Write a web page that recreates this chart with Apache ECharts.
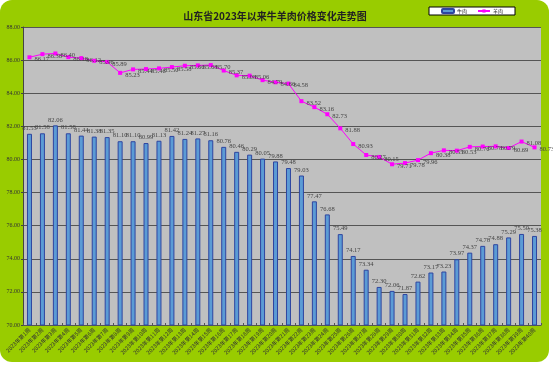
<!DOCTYPE html>
<html>
<head>
<meta charset="utf-8">
<script src="https://cdn.jsdelivr.net/npm/echarts@6/dist/echarts.min.js"></script>
<style>
html,body{margin:0;padding:0;background:#fff;}
#bg{position:absolute;left:0;top:0;width:549px;height:362px;background:#99CC00;border-radius:12px;}
#chart{position:absolute;left:0;top:0;width:553px;height:366px;}
</style>
</head>
<body>
<div id="bg"></div>
<div id="chart"></div>
<script>
const categories = ['2023年第1周','2023年第2周','2023年第3周','2023年第4周','2023年第5周','2023年第6周','2023年第7周','2023年第8周','2023年第9周','2023年第10周',
'2023年第11周','2023年第12周','2023年第13周','2023年第14周','2023年第15周','2023年第16周','2023年第17周','2023年第18周','2023年第19周','2023年第20周',
'2023年第21周','2023年第22周','2023年第23周','2023年第24周','2023年第25周','2023年第26周','2023年第27周','2023年第28周','2023年第29周','2023年第30周',
'2023年第31周','2023年第32周','2023年第33周','2023年第34周','2023年第35周','2023年第36周','2023年第37周','2023年第38周','2023年第39周','2023年第40周'];
const beef = [81.55,81.58,82.06,81.58,81.44,81.38,81.35,81.10,81.10,80.99,81.13,81.42,81.24,81.27,81.16,80.76,80.46,80.29,80.05,79.88,
79.48,79.03,77.47,76.68,75.49,74.17,73.34,72.30,72.06,71.87,72.62,73.17,73.23,73.97,74.37,74.78,74.88,75.29,75.50,75.38];
const mutton = [86.17,86.36,86.40,86.18,86.12,85.96,85.89,85.23,85.44,85.46,85.50,85.58,85.66,85.68,85.70,85.37,85.08,85.06,84.79,84.66,
84.58,83.52,83.16,82.73,81.88,80.93,80.27,80.15,79.71,79.78,79.96,80.38,80.55,80.53,80.76,80.78,80.79,80.69,81.08,80.73];
const seriesNames = ['牛肉','羊肉'];
const titleText = '山东省2023年以来牛羊肉价格变化走势图';

const chart = echarts.init(document.getElementById('chart'), null, {renderer:'canvas'});
const lblFont = 'Liberation Serif';
chart.setOption({
  animation:false,
  backgroundColor:'transparent',
  title:{text:titleText,left:270,textAlign:'center',top:6,
    textStyle:{fontSize:10,fontWeight:'bold',color:'#222',fontFamily:'Noto Sans CJK SC'}},
  legend:{left:429,top:7,backgroundColor:'#fff',borderColor:'#000',borderWidth:1,borderRadius:0,
    padding:[1,12,1,12],itemGap:10,itemWidth:12,itemHeight:4,
    textStyle:{fontSize:5,color:'#222',fontFamily:'Noto Sans CJK SC',padding:[0,0,0,-2]},
    data:[{name:'牛肉'},{name:'羊肉'}]},
  grid:{left:23,right:12,top:27,bottom:41,show:true,backgroundColor:'#C0C0C0',borderWidth:0},
  xAxis:{type:'category',data:categories,
    axisLine:{lineStyle:{color:'#555',width:1}},
    axisTick:{show:true,inside:true,length:2,lineStyle:{color:'#555'}},
    axisLabel:{rotate:45,fontSize:5.5,color:'#333',margin:4,interval:0,fontFamily:'Noto Sans CJK SC'}},
  yAxis:{type:'value',min:70,max:88,interval:2,
    axisLine:{show:true,lineStyle:{color:'#444',width:1}},
    axisTick:{show:true,length:2,lineStyle:{color:'#444'}},
    axisLabel:{fontSize:6,color:'#333',margin:3,fontFamily:lblFont,formatter:v=>v.toFixed(2)},
    splitLine:{lineStyle:{color:'#555',width:1}}},
  series:[
    {name:seriesNames[0],type:'bar',data:beef,barWidth:5,
      itemStyle:{color:'#5B9BD5',borderColor:'#2E45A0',borderWidth:1},
      label:{show:true,position:'top',distance:2,fontSize:6.5,color:'#444',fontFamily:lblFont,
        formatter:p=>p.value.toFixed(2)}},
    {name:seriesNames[1],type:'line',data:mutton,symbol:'rect',symbolSize:4,
      lineStyle:{color:'#FF00FF',width:1},itemStyle:{color:'#FF00FF'},
      label:{show:true,position:'right',distance:3,offset:[0,2],fontSize:6.5,color:'#444',fontFamily:lblFont,
        formatter:p=>p.value.toFixed(2)}}
  ]
});
</script>
</body>
</html>
